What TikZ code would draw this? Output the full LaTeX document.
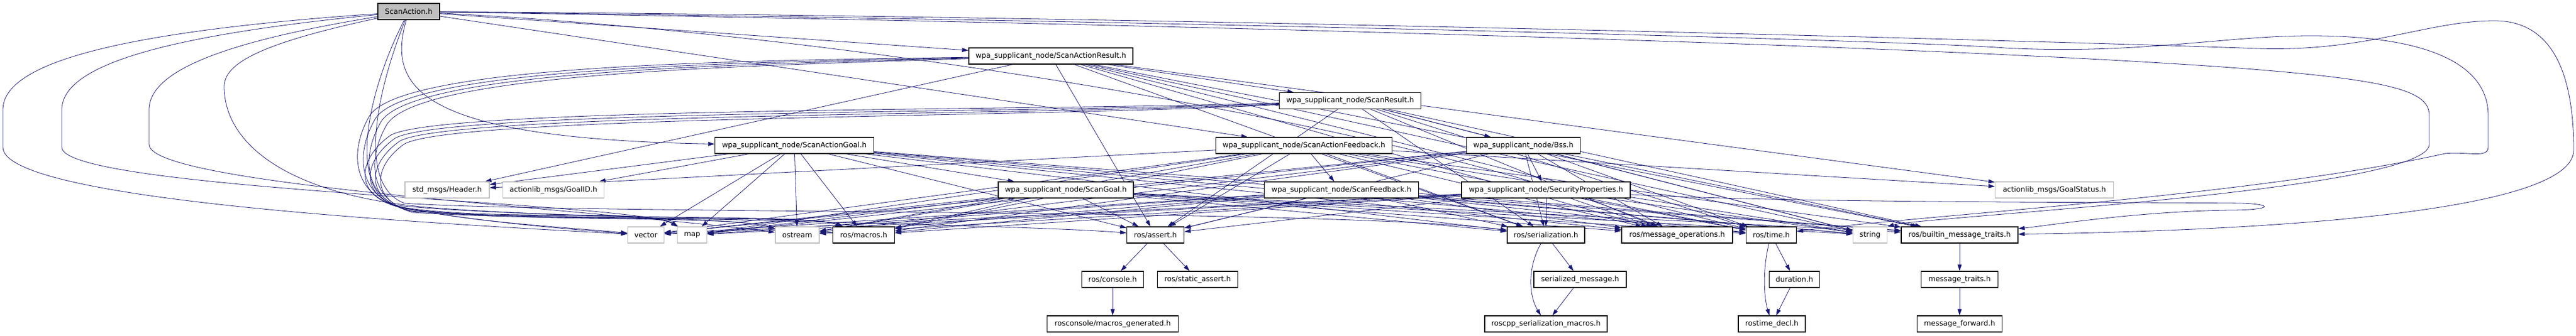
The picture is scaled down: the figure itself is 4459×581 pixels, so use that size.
\documentclass[tikz,border=0pt]{standalone}
\usepackage{fontspec}
\setmainfont{DejaVu Sans}
\usetikzlibrary{arrows.meta}
\definecolor{edgeblue}{HTML}{191970}
\definecolor{boxgray}{HTML}{BFBFBF}
\pgfdeclarelayer{back}
\pgfsetlayers{back,main}

\begin{document}
\begin{tikzpicture}[x=1pt, y=-1pt,
  every node/.style={rectangle, draw=black, fill=white, line width=1.2pt, minimum height=28pt, inner xsep=2pt, inner ysep=0pt, font=\fontsize{12.6}{15}\selectfont},
  extern/.style={draw=boxgray},
  inc/.style={draw=edgeblue, line width=0.8pt, -{Triangle[length=11pt, width=7pt]}},
  every edge/.style={inc}]
\useasboundingbox (0,0) rectangle (4459,581);

% headers of the package
\node[fill=boxgray, minimum width=107pt] (sa) at (707.5,20) {ScanAction.h};
\node[minimum width=284pt] (sar) at (1819,97) {wpa\_supplicant\_node/ScanActionResult.h};
\node[minimum width=245pt] (sr) at (2337,174.5) {wpa\_supplicant\_node/ScanResult.h};
\node[minimum width=275pt] (sag) at (1375,252) {wpa\_supplicant\_node/ScanActionGoal.h};
\node[minimum width=305pt] (saf) at (2257,252) {wpa\_supplicant\_node/ScanActionFeedback.h};
\node[minimum width=197pt] (bss) at (2637,252) {wpa\_supplicant\_node/Bss.h};
\node[minimum width=234pt] (sg) at (1845,329) {wpa\_supplicant\_node/ScanGoal.h};
\node[minimum width=267pt] (sf) at (2322,329) {wpa\_supplicant\_node/ScanFeedback.h};
\node[minimum width=292pt] (sp) at (2676,329) {wpa\_supplicant\_node/SecurityProperties.h};

% other message packages
\node[extern, minimum width=146pt] (hdr) at (774,329) {std\_msgs/Header.h};
\node[extern, minimum width=175pt] (gid) at (958,329) {actionlib\_msgs/GoalID.h};
\node[extern, minimum width=205pt] (gst) at (3556,329) {actionlib\_msgs/GoalStatus.h};

% std and roscpp headers
\node[extern, minimum width=63pt] (vec) at (1118,407) {vector};
\node[extern, minimum width=51pt] (map) at (1198,407) {map};
\node[extern, minimum width=76pt] (ost) at (1380,407) {ostream};
\node[minimum width=107pt] (mac) at (1495,407) {ros/macros.h};
\node[minimum width=99pt] (ast) at (2000,407) {ros/assert.h};
\node[minimum width=134pt] (ser) at (2676,407) {ros/serialization.h};
\node[minimum width=192pt] (mop) at (2903,407) {ros/message\_operations.h};
\node[minimum width=87pt] (tim) at (3066,407) {ros/time.h};
\node[extern, minimum width=59pt] (str) at (3237,407) {string};
\node[minimum width=202pt] (bmt) at (3392,407) {ros/builtin\_message\_traits.h};

\node[minimum width=107pt] (con) at (1926,484) {ros/console.h};
\node[minimum width=139pt] (sta) at (2073,484) {ros/static\_assert.h};
\node[minimum width=160pt] (sm) at (2735,484) {serialized\_message.h};
\node[minimum width=87pt] (dur) at (3106,484) {duration.h};
\node[minimum width=133pt] (mt) at (3392,484) {message\_traits.h};

\node[minimum width=227pt] (mcg) at (1926,561) {rosconsole/macros\_generated.h};
\node[minimum width=212pt] (rsm) at (2676,561) {roscpp\_serialization\_macros.h};
\node[minimum width=116pt] (rtd) at (3067,561) {rostime\_decl.h};
\node[minimum width=147pt] (mfw) at (3392,561) {message\_forward.h};

\begin{pgfonlayer}{back}
% ScanAction.h
\draw[inc] (sa) .. controls (200,55) and (5,110) .. (5,190) -- (5,255) .. controls (5,345) and (700,385) .. (vec);
\draw[inc] (sa) .. controls (300,60) and (107,110) .. (107,190) -- (107,255) .. controls (107,330) and (1100,350) .. (map);
\draw[inc] (sa) .. controls (400,70) and (258,120) .. (258,190) -- (258,250) .. controls (258,320) and (1000,360) .. (ost);
\draw[inc] (sa) .. controls (450,75) and (388,110) .. (388,150) .. controls (388,250) and (500,340) .. (750,360) .. controls (1100,385) and (1400,370) .. (mac);
\draw[inc] (sa) .. controls (640,150) and (600,320) .. (680,355) .. controls (900,380) and (1700,385) .. (ast);
\draw[inc] (sa) .. controls (655,150) and (615,320) .. (700,352) .. controls (1000,372) and (2300,360) .. (ser);
\draw[inc] (sa) .. controls (670,150) and (720,240) .. (sag);
\path (sa) edge (sar) edge (saf);
\draw[inc] (sa) .. controls (1500,60) and (2500,230) .. (mop);
\draw[inc] (sa) .. controls (2000,40) and (3400,80) .. (3900,120) .. controls (4150,140) and (4205,160) .. (4205,200) -- (4205,250) .. controls (4205,330) and (3330,375) .. (str.north east);
\draw[inc] (sa) .. controls (2000,35) and (3300,70) .. (3470,83) .. controls (3700,95) and (3850,62) .. (4000,62) .. controls (4200,62) and (4307,110) .. (4307,200) -- (4307,255) .. controls (4307,275) and (4270,262) .. (4232,266) .. controls (3900,340) and (3300,375) .. (tim);
\draw[inc] (sa) .. controls (2000,28) and (3500,70) .. (3909,84) .. controls (4100,90) and (4200,36) .. (4318,36) .. controls (4430,36) and (4455,150) .. (4455,260) .. controls (4455,370) and (3900,400) .. (bmt);

% action messages
\path (sag) edge (hdr) edge (gid) edge (sg) edge (vec) edge (map) edge (ost) edge (mac) edge (ast) edge (ser) edge (mop) edge (tim) edge (str) edge (bmt);
\path (sar) edge (hdr) edge (gst) edge (sr) edge (ast) edge (ser) edge (mop) edge (tim) edge (str) edge (bmt);
\draw[inc] (sar) .. controls (1300,105) and (700,110) .. (640,200) .. controls (605,260) and (610,330) .. (680,355) .. controls (800,385) and (1000,395) .. (vec);
\draw[inc] (sar) .. controls (1300,108) and (710,115) .. (650,205) .. controls (615,265) and (620,335) .. (690,358) .. controls (850,385) and (1120,360) .. (map);
\draw[inc] (sar) .. controls (1300,111) and (720,120) .. (660,210) .. controls (625,270) and (630,340) .. (700,362) .. controls (900,385) and (1250,370) .. (ost);
\draw[inc] (sar) .. controls (1300,114) and (730,125) .. (670,215) .. controls (635,275) and (640,345) .. (710,366) .. controls (1000,385) and (1400,370) .. (mac);
\path (saf) edge (hdr) edge (gst) edge (sf) edge (vec) edge (map) edge (ost) edge (mac) edge (ast) edge (ser) edge (mop) edge (tim) edge (str) edge (bmt);

% goal, result, feedback
\path (sg) edge (vec) edge (map) edge (ost) edge (mac) edge (ast) edge (ser) edge (mop) edge (tim) edge (str) edge (bmt);
\path (sr) edge (bss) edge (ast) edge (ser) edge (mop) edge (tim) edge (str) edge (bmt);
\draw[inc] (sr) .. controls (1800,192) and (750,185) .. (675,235) .. controls (620,275) and (612,335) .. (684,357) .. controls (820,385) and (1000,398) .. (vec);
\draw[inc] (sr) .. controls (1800,196) and (760,190) .. (683,240) .. controls (628,280) and (622,338) .. (694,360) .. controls (860,386) and (1120,362) .. (map);
\draw[inc] (sr) .. controls (1800,200) and (770,195) .. (691,245) .. controls (636,285) and (632,342) .. (704,364) .. controls (910,386) and (1260,372) .. (ost);
\draw[inc] (sr) .. controls (1800,204) and (780,200) .. (699,250) .. controls (644,290) and (642,346) .. (714,368) .. controls (1010,386) and (1410,372) .. (mac);
\path (sf) edge (vec) edge (map) edge (ost) edge (mac) edge (ast) edge (ser) edge (mop) edge (tim) edge (str) edge (bmt);
\path (bss) edge (sp) edge (vec) edge (map) edge (ost) edge (mac) edge (ast) edge (ser) edge (mop) edge (tim) edge (str) edge (bmt);
\path (sp) edge (vec) edge (map) edge (ost) edge (mac) edge (ast) edge (ser) edge (mop) edge (tim) edge (str);
\draw[inc] (sp) .. controls (3100,352) and (3700,350) .. (3880,352) .. controls (3940,354) and (3930,364) .. (3860,364) .. controls (3700,366) and (3550,390) .. (bmt);

% roscpp internals
\path (ast) edge (con) edge (sta);
\path (con) edge (mcg);
\draw[inc] (ser) .. controls (2645,460) and (2645,510) .. (rsm);
\path (ser) edge (sm);
\path (sm) edge (rsm);
\draw[inc] (tim) .. controls (3052,460) and (3052,510) .. (rtd);
\path (tim) edge (dur);
\path (dur) edge (rtd);
\path (bmt) edge (mt);
\path (mt) edge (mfw);
\end{pgfonlayer}
\end{tikzpicture}
\end{document}
